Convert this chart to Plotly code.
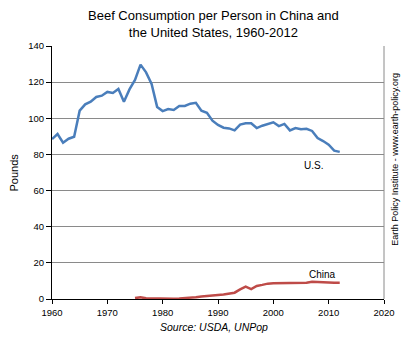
import plotly.graph_objects as go

# Beef consumption per person (pounds)
us_years = list(range(1960, 2013))
us_pounds = [88.5, 91.3, 86.5, 88.7, 89.8, 104.2, 107.7, 109.2, 111.8, 112.5,
             114.6, 114.0, 116.2, 109.2, 116.0, 121.2, 129.7, 125.4, 119.0, 106.3,
             104.0, 105.1, 104.6, 106.8, 106.8, 108.1, 108.6, 104.2, 103.0, 98.7,
             96.3, 94.8, 94.4, 93.3, 96.5, 97.2, 97.2, 94.6, 95.9, 97.0,
             97.8, 95.7, 96.9, 93.3, 94.6, 93.9, 94.2, 93.0, 89.1, 87.4,
             85.4, 82.1, 81.4]

china_years = list(range(1975, 2013))
china_pounds = [0.5, 0.9, 0.4, 0.3, 0.2, 0.2, 0.2, 0.2, 0.3, 0.4,
                0.8, 1.0, 1.4, 1.8, 2.0, 2.2, 2.5, 2.9, 3.5, 5.3,
                6.8, 5.5, 7.2, 7.8, 8.5, 8.7, 8.7, 8.7, 9.0, 9.0,
                9.0, 9.0, 9.6, 9.4, 9.0, 9.0, 9.0, 9.0]

x_ticks = [1960, 1970, 1980, 1990, 2000, 2010, 2020]
y_ticks = [0, 20, 40, 60, 80, 100, 120, 140]

FONT = "Liberation Sans, Arial, sans-serif"
US_COLOR = "#4a7ebb"
CHINA_COLOR = "#be4b48"

fig = go.Figure()
fig.add_trace(go.Scatter(x=us_years, y=us_pounds, mode="lines",
                         line=dict(color=US_COLOR, width=2.5), name="U.S."))
fig.add_trace(go.Scatter(x=china_years, y=china_pounds, mode="lines",
                         line=dict(color=CHINA_COLOR, width=2.5), name="China"))

fig.update_layout(
    width=407, height=340,
    margin=dict(l=52, r=16, t=46, b=41),
    paper_bgcolor="white", plot_bgcolor="white",
    showlegend=False,
    font=dict(family=FONT, color="black"),
)

fig.update_xaxes(
    range=[1960, 2020], tickvals=x_ticks, ticktext=[str(v) for v in x_ticks],
    showgrid=False, zeroline=False,
    showline=True, linecolor="black", linewidth=1.2,
    ticks="outside", ticklen=4, tickcolor="black",
    tickfont=dict(size=9.5, family=FONT),
)
fig.update_yaxes(
    range=[0, 140], tickvals=y_ticks, ticktext=[str(v) for v in y_ticks],
    showgrid=True, gridcolor="#8a8a8a", gridwidth=1, zeroline=False,
    showline=True, linecolor="black", linewidth=1.2,
    ticks="outside", ticklen=5, tickcolor="black",
    tickfont=dict(size=9.5, family=FONT),
)

# right-hand frame edge
fig.add_shape(type="line", xref="paper", yref="paper", x0=1, x1=1, y0=0, y1=1,
              line=dict(color="#8a8a8a", width=1))

annotations = [
    dict(text="Beef Consumption per Person in China and<br>the United States, 1960-2012",
         xref="paper", yref="paper", x=0.487, y=1, yshift=40, xanchor="center",
         yanchor="top", showarrow=False, font=dict(size=13, family=FONT)),
    dict(text="Pounds", xref="paper", yref="paper", x=0, xshift=-39, y=0.5,
         xanchor="center", yanchor="middle",
         textangle=-90, showarrow=False, font=dict(size=11, family=FONT)),
    dict(text="Earth Policy Institute - www.earth-policy.org", xref="paper",
         yref="paper", x=1, xshift=11, y=0.55, xanchor="center", yanchor="middle",
         textangle=-90, showarrow=False, font=dict(size=9, family=FONT)),
    dict(text="<i>Source: USDA, UNPop</i>", xref="paper", yref="paper", x=0.488,
         y=0, yshift=-28, xanchor="center", yanchor="middle", showarrow=False,
         font=dict(size=10.5, family=FONT)),
    dict(text="U.S.", x=2007.2, y=73.6, showarrow=False,
         font=dict(size=10, family=FONT)),
    dict(text="China", x=2008.8, y=13.4, showarrow=False,
         font=dict(size=10, family=FONT)),
]
fig.update_layout(annotations=annotations)

fig.write_html("out.html")
